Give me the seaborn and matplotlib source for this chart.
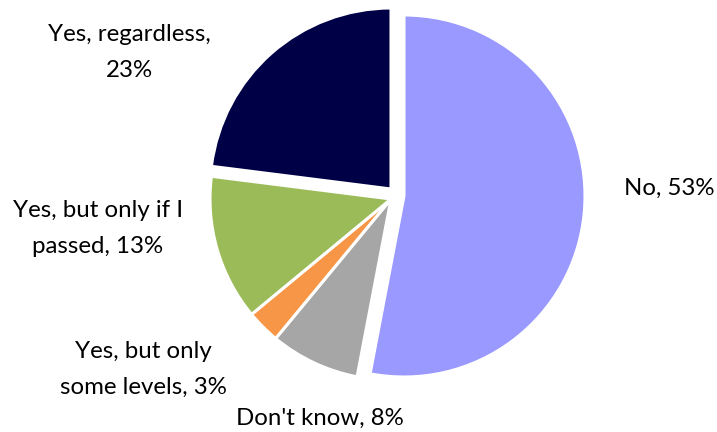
import matplotlib
matplotlib.use("Agg")
import matplotlib.pyplot as plt
from matplotlib.font_manager import FontProperties
import seaborn as sns

# ---- data ----
categories = ["No", "Don't know", "Yes, but only some levels",
              "Yes, but only if I passed", "Yes, regardless"]
shares = [53, 8, 3, 13, 23]
label_texts = ["No, 53%", "Don't know, 8%", "Yes, but only\nsome levels, 3%",
               "Yes, but only if I\npassed, 13%", "Yes, regardless,\n23%"]
colors = ["#9999FF", "#A6A6A6", "#F79646", "#9BBB59", "#000046"]

# ---- layout (pixels, image coordinates: y down); y = baseline of last line ----
W, H = 717, 432
CX, CY, R = 391, 199, 181
wedge_shift = [(13, -3), (0, 0), (0, 0), (0, 0), (0, -10)]
label_pos = [(669, 195), (320, 425), (143, 394), (98, 253), (129, 77)]

sns.set_theme(style="white")
plt.rcParams['font.family'] = ['Lato', 'DejaVu Sans']

fig = plt.figure(figsize=(W / 100, H / 100), dpi=100)
fig.patch.set_facecolor("white")
ax = fig.add_axes([0, 0, 1, 1])

wedges, _ = ax.pie(shares, colors=colors, startangle=90, counterclock=False,
                   radius=R, center=(CX, H - CY), frame=False,
                   wedgeprops=dict(edgecolor="white", linewidth=2.2))
for w, (dx, dy) in zip(wedges, wedge_shift):
    w.set_center((CX + dx, H - CY - dy))

ax.set_xlim(0, W)
ax.set_ylim(0, H)
ax.set_aspect("equal")
ax.axis("off")

# font size so that text width matches reference
renderer = fig.canvas.get_renderer()
probe = ax.text(0, 0, "Yes, regardless,", fontsize=10)
w10 = probe.get_window_extent(renderer).width
probe.remove()
fs = 10 * 162 / w10
prop = FontProperties(family=['Lato', 'DejaVu Sans'], size=fs)
lw, lh, ld = renderer.get_text_width_height_descent("lp", prop, ismath=False)
linesp = 32 / (lh - ld)

for txt, (x, y) in zip(label_texts, label_pos):
    ax.text(x, H - y, txt, fontsize=fs, ha="center", va="baseline",
            linespacing=linesp, multialignment="center", color="black")

fig.savefig("out.png", dpi=100)
